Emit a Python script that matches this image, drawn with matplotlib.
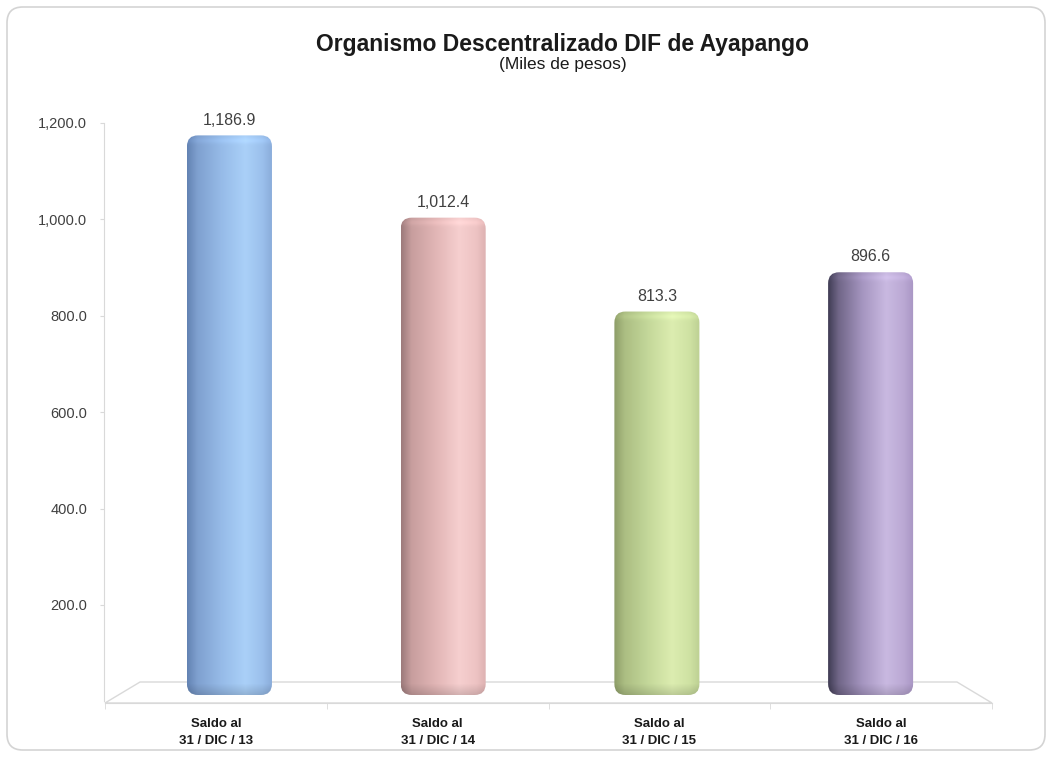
import numpy as np
import matplotlib
matplotlib.use('Agg')
import matplotlib.pyplot as plt
from matplotlib.patches import FancyBboxPatch, Polygon
from matplotlib.colors import to_rgb

plt.rcParams['font.family'] = ['Liberation Sans', 'DejaVu Sans']

# datos
categorias = ['Saldo al\n31 / DIC / 13', 'Saldo al\n31 / DIC / 14',
              'Saldo al\n31 / DIC / 15', 'Saldo al\n31 / DIC / 16']
saldos = [1186.9, 1012.4, 813.3, 896.6]
ticks_y = [200, 400, 600, 800, 1000, 1200]
titulo = 'Organismo Descentralizado DIF de Ayapango'
subtitulo = '(Miles de pesos)'

# colores del cilindro (de izquierda a derecha)
gradientes = [
    ['#6383b3', '#7fa0cf', '#96bbe8', '#aad0f8', '#9bc0ec', '#89abd9'],
    ['#9c7a7b', '#c79e9e', '#e1b5b5', '#f6cfcf', '#edc3c3', '#dcb0b0'],
    ['#8d9d68', '#abbd82', '#c4d89a', '#dcedb0', '#cfe2a3', '#bdd093'],
    ['#403c54', '#706687', '#a595c0', '#c9b9e1', '#bba9d4', '#a996c4'],
]
pos_grad = [0, 0.12, 0.4, 0.68, 0.88, 1]

W, H = 1052, 757
fig = plt.figure(figsize=(W / 100, H / 100), dpi=100)
fig.patch.set_facecolor('white')


def px_rect(l, t, r, b):
    return [l / W, 1 - b / H, (r - l) / W, (b - t) / H]


def cilindro(stops, nrows, ncols=160):
    t = np.linspace(0, 1, ncols)
    cols = np.array([to_rgb(c) for c in stops])
    fila = np.stack([np.interp(t, pos_grad, cols[:, k]) for k in range(3)], axis=-1)
    img = np.repeat(fila[None, :, :], nrows, axis=0)
    yy = np.arange(nrows)
    brillo = 1 + 0.05 * np.exp(-((yy - 5) / 3.0) ** 2)
    sombra = 1 - 0.15 * np.clip((yy - (nrows - 12)) / 12, 0, 1)
    return np.clip(img * (brillo * sombra)[:, None, None], 0, 1)


gris = '#d9d9d9'

# borde redondeado del grafico
borde = FancyBboxPatch((7 / W, 7 / H), (W - 14) / W, (H - 14) / H,
                       boxstyle='round,pad=0,rounding_size=0.015',
                       mutation_aspect=W / H, transform=fig.transFigure,
                       facecolor='none', edgecolor='#d4d4d4', lw=1.2, zorder=-1)
fig.patches.append(borde)

# pared (eje de valores)
esc_pared = 0.482
ax_w = fig.add_axes(px_rect(104, 701.4 - 1300 * esc_pared, 992, 701.4))
ax_w.set_ylim(0, 1300)
ax_w.set_xlim(0, 1)
ax_w.patch.set_alpha(0)
for s in ['top', 'right', 'bottom']:
    ax_w.spines[s].set_visible(False)
ax_w.spines['left'].set_color(gris)
ax_w.spines['left'].set_bounds(0, 1200)
ax_w.set_xticks([])
ax_w.set_yticks(ticks_y)
ax_w.set_yticklabels([f'{v:,.1f}' for v in ticks_y])
ax_w.tick_params(axis='y', colors=gris, labelcolor='#404040', labelsize=10.5,
                 length=3, pad=9)

# piso
ax_f = fig.add_axes(px_rect(105, 682, 992, 703))
ax_f.set_xlim(-0.5, 3.5)
ax_f.set_ylim(0, 1)
ax_f.patch.set_alpha(0)
for s in ['top', 'right', 'left']:
    ax_f.spines[s].set_visible(False)
ax_f.spines['bottom'].set_color(gris)
piso = Polygon([(-0.5, 0), (3.5, 0), (3.342, 1), (-0.342, 1)], closed=True,
               facecolor='white', edgecolor=gris, lw=1, clip_on=False)
ax_f.add_patch(piso)
ax_f.set_yticks([])
ax_f.set_xticks(range(len(categorias)))
ax_f.set_xticklabels(categorias, fontsize=9.5, fontweight='bold',
                     color='#1a1a1a', linespacing=1.5)
ax_f.set_xticks(np.arange(-0.5, len(categorias)), minor=True)
ax_f.tick_params(axis='x', which='major', length=0, pad=11)
ax_f.tick_params(axis='x', which='minor', length=4, color=gris)

# barras
esc_barra = 0.4715
px_cat = 213.7
ax_b = fig.add_axes(px_rect(104, 695 - 1300 * esc_barra, 992, 695))
ax_b.patch.set_alpha(0)
ax_b.axis('off')
x = np.arange(len(saldos))
barras = ax_b.bar(x, saldos, width=85 / px_cat, color='none', edgecolor='none')
for barra, grad, v in zip(barras, gradientes, saldos):
    x0, y0 = barra.get_xy()
    w, h = barra.get_width(), barra.get_height()
    clip = FancyBboxPatch((x0, y0), w, h,
                          boxstyle=f'round,pad=0,rounding_size={11 / px_cat}',
                          mutation_aspect=px_cat / esc_barra,
                          facecolor='none', edgecolor='none',
                          transform=ax_b.transData)
    ax_b.add_patch(clip)
    img = cilindro(grad, max(int(h * esc_barra), 2))
    ax_b.imshow(img, extent=(x0, x0 + w, y0, y0 + h), aspect='auto',
                origin='upper', clip_path=clip, interpolation='bilinear',
                zorder=2)
    ax_b.annotate(f'{v:,.1f}', (x0 + w / 2, v), xytext=(0, 11),
                  textcoords='offset points', ha='center', va='center',
                  fontsize=11.5, color='#404040')
ax_b.set_xlim(-0.587, 3.568)
ax_b.set_ylim(0, 1300)

fig.text(563 / W, 1 - 44 / H, titulo, ha='center', va='center',
         fontsize=16.5, fontweight='bold', color='#1a1a1a')
fig.text(563 / W, 1 - 65 / H, subtitulo, ha='center', va='center',
         fontsize=12.5, color='#1a1a1a')

fig.savefig('out.png', dpi=100)
